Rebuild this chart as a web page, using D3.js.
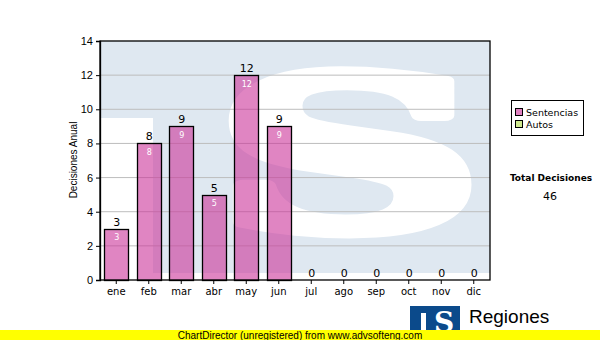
<!DOCTYPE html>
<html>
<head>
<meta charset="utf-8">
<script src="https://cdn.jsdelivr.net/npm/d3@7/dist/d3.min.js"></script>
<style>
  body { margin: 0; background: #fff; }
  svg { display: block; }
</style>
</head>
<body>
<svg id="chart" width="600" height="340"></svg>
<script>
// data
const months = ['ene', 'feb', 'mar', 'abr', 'may', 'jun', 'jul', 'ago', 'sep', 'oct', 'nov', 'dic'];
const sentencias = [3, 8, 9, 5, 12, 9, 0, 0, 0, 0, 0, 0];
const autos = [0, 0, 0, 0, 0, 0, 0, 0, 0, 0, 0, 0];
const yTicks = [0, 2, 4, 6, 8, 10, 12, 14];
const seriesNames = ['Sentencias', 'Autos'];
const seriesColors = ['#cc3399', '#cfe98f'];
const totalLabel = 'Total Decisiones';

let svg = d3.select('#chart');

const pLeft = 100, pRight = 490, pTop = 41, pBottom = 280;

let xScale = d3.scaleBand()
  .domain(months)
  .range([pLeft, pRight])
  .paddingInner(0.27)
  .paddingOuter(0.135);
let yScale = d3.scaleLinear()
  .domain([0, 14])
  .range([pBottom, pTop]);

// watermark logo in plot background
svg.append('clipPath').attr('id', 'plotclip')
  .append('rect')
  .attr('x', pLeft).attr('y', pTop)
  .attr('width', pRight - pLeft).attr('height', pBottom - pTop);

let wm = svg.append('g').attr('clip-path', 'url(#plotclip)');
wm.append('rect')
  .attr('x', pLeft).attr('y', pTop)
  .attr('width', pRight - pLeft).attr('height', pBottom - pTop)
  .attr('fill', '#dfe8f1');
wm.append('rect')
  .attr('x', pLeft).attr('y', 118)
  .attr('width', 53).attr('height', pBottom - 118)
  .attr('fill', '#fff');
wm.append('rect')
  .attr('x', pLeft).attr('y', 273)
  .attr('width', pRight - pLeft).attr('height', 10)
  .attr('fill', '#fff');
let bigS = wm.append('text')
  .attr('font-family', 'DejaVu Serif')
  .attr('font-weight', 'bold')
  .attr('font-size', 300)
  .attr('fill', '#fff')
  .attr('stroke', '#fff')
  .attr('stroke-width', 16)
  .attr('stroke-linejoin', 'round')
  .text('S');
{
  const bb = bigS.node().getBBox();
  // fit glyph to the box x 214..488, y 30..276
  const sx = 270 / bb.width, sy = 250 / bb.height;
  bigS.attr('transform', `translate(${214 - bb.x * sx},${30 - bb.y * sy}) scale(${sx},${sy})`);
}

// grid lines
svg.append('g')
  .selectAll('line')
  .data(yTicks.filter(d => d > 0 && d < 14))
  .enter()
  .append('line')
  .attr('x1', pLeft).attr('x2', pRight)
  .attr('y1', d => yScale(d)).attr('y2', d => yScale(d))
  .attr('stroke', '#bdbdbd')
  .attr('stroke-width', 1);

// bars
const totals = months.map((m, i) => sentencias[i] + autos[i]);
const withBar = months.filter((m, i) => sentencias[i] > 0);
svg.append('g')
  .selectAll('rect')
  .data(withBar)
  .enter()
  .append('rect')
  .attr('x', d => Math.round(xScale(d)) + 0.5)
  .attr('y', d => Math.round(yScale(sentencias[months.indexOf(d)])) + 0.5)
  .attr('width', Math.round(xScale.bandwidth()))
  .attr('height', d => pBottom - Math.round(yScale(sentencias[months.indexOf(d)])))
  .attr('fill', seriesColors[0])
  .attr('fill-opacity', 0.6)
  .attr('stroke', '#000')
  .attr('stroke-width', 1.3);

// labels inside bars
svg.append('g')
  .selectAll('text')
  .data(withBar)
  .enter()
  .append('text')
  .attr('x', d => xScale(d) + xScale.bandwidth() / 2 + 0.5)
  .attr('y', d => yScale(sentencias[months.indexOf(d)]) + 11.5)
  .attr('text-anchor', 'middle')
  .attr('font-family', 'DejaVu Sans')
  .attr('font-size', 8)
  .attr('fill', '#fff')
  .text(d => sentencias[months.indexOf(d)]);

// total labels above bars
svg.append('g')
  .selectAll('text')
  .data(months)
  .enter()
  .append('text')
  .attr('x', d => xScale(d) + xScale.bandwidth() / 2 + 0.5)
  .attr('y', (d, i) => yScale(totals[i]) - 3)
  .attr('text-anchor', 'middle')
  .attr('font-family', 'DejaVu Sans')
  .attr('font-size', 11)
  .attr('fill', '#000')
  .text((d, i) => totals[i]);

// plot border
svg.append('rect')
  .attr('x', pLeft).attr('y', pTop)
  .attr('width', pRight - pLeft).attr('height', pBottom - pTop)
  .attr('fill', 'none')
  .attr('stroke', '#000')
  .attr('stroke-width', 1.3);

// y axis
let yAxis = svg.append('g')
  .attr('transform', `translate(${pLeft},0)`)
  .call(d3.axisLeft(yScale).tickValues(yTicks).tickSize(4).tickPadding(3));
yAxis.select('.domain').attr('stroke-width', 1.3);
yAxis.selectAll('text')
  .attr('font-family', 'Liberation Sans')
  .attr('font-size', 11)
  .attr('fill', '#000');

// x axis
let xAxis = svg.append('g')
  .attr('transform', `translate(0,${pBottom})`)
  .call(d3.axisBottom(xScale).tickSize(4).tickPadding(4));
xAxis.select('.domain').remove();
xAxis.selectAll('text')
  .attr('font-family', 'DejaVu Sans')
  .attr('font-size', 10)
  .attr('fill', '#000');

svg.append('text')
  .attr('transform', `translate(77,160) rotate(-90)`)
  .attr('text-anchor', 'middle')
  .attr('font-family', 'Liberation Sans')
  .attr('font-size', 10)
  .text('Decisiones Anual');

// legend
let legend = svg.append('g');
legend.append('rect')
  .attr('x', 511.5).attr('y', 100.5)
  .attr('width', 72).attr('height', 35)
  .attr('fill', '#fff')
  .attr('stroke', '#000');
seriesNames.forEach((name, i) => {
  legend.append('rect')
    .attr('x', 515.5).attr('y', 108.5 + i * 12)
    .attr('width', 7).attr('height', 7)
    .attr('fill', i === 0 ? '#e080c0' : seriesColors[1])
    .attr('stroke', '#000');
  legend.append('text')
    .attr('x', 526).attr('y', 116 + i * 12)
    .attr('font-family', 'DejaVu Sans')
    .attr('font-size', 9.5)
    .text(name);
});

svg.append('text')
  .attr('x', 551).attr('y', 181)
  .attr('text-anchor', 'middle')
  .attr('font-family', 'DejaVu Sans')
  .attr('font-weight', 'bold')
  .attr('font-size', 9)
  .text(totalLabel);
svg.append('text')
  .attr('x', 550).attr('y', 200)
  .attr('text-anchor', 'middle')
  .attr('font-family', 'DejaVu Sans')
  .attr('font-size', 11)
  .text(d3.sum(totals));

// footer logo
svg.append('rect')
  .attr('x', 410).attr('y', 306)
  .attr('width', 50).attr('height', 30)
  .attr('fill', '#0b4a8b');
svg.append('rect')
  .attr('x', 421).attr('y', 313)
  .attr('width', 5).attr('height', 23)
  .attr('fill', '#fff');
svg.append('text')
  .attr('x', 444).attr('y', 332)
  .attr('text-anchor', 'middle')
  .attr('font-family', 'DejaVu Serif')
  .attr('font-weight', 'bold')
  .attr('font-size', 28)
  .attr('fill', '#fff')
  .text('S');
svg.append('text')
  .attr('x', 469).attr('y', 323)
  .attr('font-family', 'Liberation Sans')
  .attr('font-size', 19)
  .attr('fill', '#000')
  .text('Regiones');
svg.append('text')
  .attr('x', 467).attr('y', 338)
  .attr('font-family', 'Liberation Sans')
  .attr('font-size', 9)
  .attr('fill', '#222')
  .text('Tribunal Supremo de Justicia');

// unregistered banner
svg.append('rect')
  .attr('x', 0).attr('y', 330)
  .attr('width', 600).attr('height', 10)
  .attr('fill', '#ffff00');
svg.append('text')
  .attr('x', 300).attr('y', 338.5)
  .attr('text-anchor', 'middle')
  .attr('font-family', 'Liberation Sans')
  .attr('font-size', 10)
  .attr('fill', '#000')
  .text('ChartDirector (unregistered) from www.advsofteng.com');
</script>
</body>
</html>
